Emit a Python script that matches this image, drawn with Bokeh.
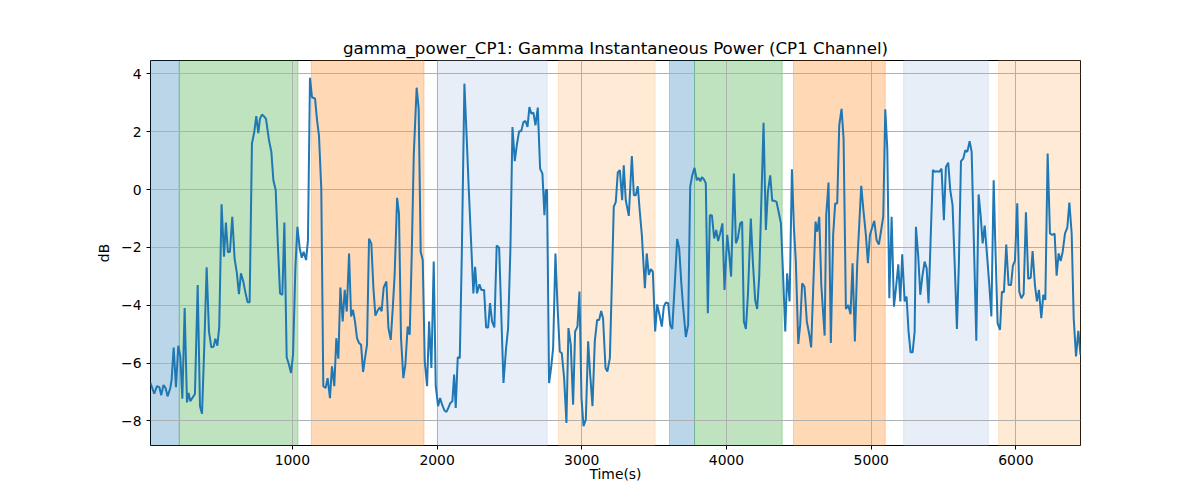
from bokeh.plotting import figure
from bokeh.models import Range1d, FixedTicker, CustomJSTickFormatter, BoxAnnotation
from bokeh.embed import file_html
from bokeh.resources import INLINE

time_s = [
    20, 46, 64, 81, 94, 110, 124, 138, 157, 166, 180, 196, 212, 226, 240, 256, 272, 283, 295, 309,
    327, 346, 362, 376, 392, 408, 424, 440, 456, 468, 482, 495, 511, 528, 541, 555, 569, 585, 601, 617,
    631, 645, 661, 677, 691, 705, 721, 737, 751, 765, 776, 790, 804, 818,
    839, 855, 869, 885, 901, 915, 931, 945, 961, 977, 991, 1005, 1021, 1035, 1051, 1065, 1078, 1095, 1108, 1122,
    1136, 1157, 1171, 1184, 1200, 1214, 1230, 1244, 1260, 1274, 1290, 1304, 1318, 1332, 1348, 1362, 1376, 1392, 1406, 1419,
    1433, 1447, 1461, 1475, 1489, 1502, 1516, 1530, 1546, 1560, 1574, 1590, 1604, 1617, 1631,
    1650, 1664, 1680, 1694, 1707, 1724, 1737, 1751, 1767, 1781, 1797, 1811, 1825, 1839, 1859, 1873, 1887, 1901, 1915, 1931,
    1945, 1961, 1977, 1991, 2007, 2021, 2035, 2051, 2065, 2078, 2092, 2106, 2118, 2129, 2143, 2157, 2171, 2189, 2205, 2219,
    2235, 2251, 2263, 2276, 2293, 2306, 2325, 2339, 2353, 2366, 2380, 2396, 2412, 2429,
    2459, 2477, 2491, 2507, 2521, 2537, 2551, 2567, 2581, 2597, 2611, 2625, 2638, 2652, 2666, 2680, 2696, 2712, 2728, 2742,
    2751, 2760, 2774, 2788, 2802, 2818, 2832, 2848, 2862, 2878, 2894, 2908, 2924, 2940, 2954, 2970, 2984, 2998, 3012, 3028,
    3044, 3058, 3074, 3090, 3106, 3120, 3134, 3147, 3164, 3177, 3194, 3207, 3221, 3235, 3249, 3263,
    3279, 3290, 3304, 3325, 3346, 3360, 3373, 3387, 3401, 3415, 3436, 3449, 3463, 3477, 3491, 3507, 3521, 3537, 3553, 3567,
    3581, 3597, 3611, 3625, 3641, 3659, 3673, 3687, 3701, 3719, 3735, 3749, 3763, 3779, 3795, 3807, 3820, 3830, 3843, 3857,
    3871, 3885, 3899, 3915, 3929, 3942, 3956, 3972, 3986, 4005, 4019, 4032, 4051, 4065, 4078,
    4095, 4108, 4120, 4134, 4148, 4168, 4182, 4198, 4212, 4226, 4256, 4272, 4286, 4302, 4316, 4332, 4346, 4360, 4376, 4390,
    4406, 4419, 4436, 4452, 4466, 4479, 4496, 4509, 4523, 4539, 4555, 4572, 4585, 4615, 4627, 4641, 4655, 4678, 4689, 4705,
    4721, 4737, 4751, 4765, 4779, 4795, 4809, 4825, 4841, 4857, 4871, 4887, 4903,
    4931, 4945, 4963, 4977, 4991, 5005, 5021, 5037, 5053, 5067, 5083, 5097, 5111, 5125, 5141, 5157, 5171, 5187, 5201, 5214,
    5231, 5244, 5258, 5272, 5286, 5300, 5309, 5325, 5339, 5353, 5369, 5383, 5396, 5410, 5426, 5440, 5454, 5470, 5486, 5502,
    5516, 5532, 5546, 5562, 5576, 5592, 5606, 5620, 5636, 5650, 5664, 5680, 5694,
    5726, 5742, 5756, 5770, 5784, 5800, 5816, 5830, 5846, 5857, 5873, 5890, 5903, 5917, 5933, 5949, 5966, 5979, 5993, 6009,
    6023, 6037, 6053, 6069, 6085, 6102, 6115, 6131, 6145, 6159, 6175, 6189, 6203, 6219, 6235, 6251, 6267, 6281, 6295, 6309,
    6323, 6339, 6355, 6369, 6385, 6399, 6415, 6431, 6446,
]

power_db = [
    -6.69, -7.06, -6.80, -6.83, -7.11, -6.76, -6.86, -7.15, -6.86, -6.57, -5.46, -6.83, -5.40, -5.77, -7.23, -4.10, -7.36, -7.03, -7.32, -7.21,
    -7.07, -3.30, -7.49, -7.75, -5.37, -2.69, -4.91, -5.45, -5.44, -5.16, -5.40, -4.74, -0.51, -2.32, -1.14, -2.17, -2.15, -0.94, -2.38, -2.90,
    -3.62, -2.90, -3.18, -3.59, -3.90, -3.90, 1.59, 1.99, 2.54, 1.95, 2.44, 2.59, 2.53, 2.44,
    1.70, 1.30, 0.32, -0.02, -2.03, -3.59, -3.64, -1.14, -5.80, -6.06, -6.34, -5.71, -2.72, -1.29, -2.03, -2.36, -2.15, -2.44, -1.75, 3.86,
    3.19, 3.14, 2.39, 1.87, 0.03, -6.80, -6.86, -6.52, -7.21, -6.11, -6.80, -5.14, -5.85, -3.39, -4.56, -3.47, -4.22, -2.21, -4.39, -4.16,
    -4.56, -5.14, -5.31, -5.37, -6.31, -5.83, -5.37, -1.70, -1.87, -3.39, -4.36, -4.18, -4.07, -4.21, -3.39,
    -3.18, -4.79, -5.20, -4.10, -2.95, -0.29, -0.83, -5.14, -6.52, -6.06, -4.74, -5.02, -2.26, 1.18, 3.52, 2.79, -2.15, -2.44, -5.94, -6.80,
    -4.56, -6.17, -2.49, -6.80, -7.49, -7.21, -7.44, -7.64, -7.69, -7.55, -7.38, -7.32, -6.40, -7.55, -5.80, -5.83, -2.26, 3.66, 1.76, 0.03,
    -1.80, -3.59, -2.67, -3.59, -3.28, -3.47, -3.47, -4.77, -4.77, -3.93, -4.56, -4.77, -1.94, -2.01,
    -6.69, -5.48, -4.79, -2.03, 2.16, 0.98, 1.53, 2.01, 2.01, 2.33, 2.37, 2.16, 2.85, 2.62, 2.66, 2.22, 2.83, 0.72, 0.55, -0.89,
    -0.02, -0.02, -6.69, -6.17, -5.48, -2.21, -3.99, -5.60, -5.66, -6.52, -8.07, -4.79, -5.37, -7.44, -4.91, -4.74, -3.53, -7.21, -8.18, -7.95,
    -5.25, -6.40, -7.49, -5.25, -4.51, -4.51, -4.20, -4.45, -6.17, -6.29, -5.83, -3.41, -0.60, -0.43, 0.59, 0.67,
    -0.37, 0.84, -0.37, -0.91, 1.16, -0.20, -0.20, 0.11, -0.77, -1.57, -3.41, -2.21, -2.95, -2.75, -2.84, -4.91, -3.97, -4.33, -4.74, -4.05,
    -3.90, -3.93, -4.68, -4.82, -3.41, -1.71, -2.03, -3.18, -4.10, -5.10, -4.68, 0.09, 0.49, 0.75, 0.32, 0.40, 0.29, 0.43, 0.36, 0.21,
    -4.28, -0.89, -0.89, -1.69, -1.40, -1.78, -1.52, -1.17, -3.47, -1.57, -2.26, -3.01, 0.55, -1.86, -1.69,
    -1.17, -1.11, -4.56, -4.82, -3.64, -1.00, -2.49, -3.82, -4.13, -3.01, 2.31, -1.40, -0.08, 0.49, -0.39, -0.39, -0.43, -0.77, -1.17, -2.84,
    -4.91, -2.90, -3.87, 0.70, -1.34, -2.49, -5.34, -4.68, -3.24, -3.36, -4.56, -5.02, -5.46, -1.11, -1.46, -0.94, -3.30, -5.05, -0.89, 0.24,
    -5.31, -1.57, -0.48, -0.48, 2.22, 2.79, 1.76, -4.13, -3.99, -4.31, -2.55, -5.25, -2.60,
    0.13, -0.66, -1.57, -2.55, -1.57, -1.34, -1.08, -1.75, -1.90, -1.46, -0.94, 2.77, 1.41, -3.76, -0.94, -4.05, -3.41, -2.59, -3.87, -2.24,
    -3.87, -3.70, -4.91, -5.63, -5.63, -4.91, -1.29, -2.32, -3.64, -3.01, -2.49, -2.72, -3.93, -1.80, 0.67, 0.61, 0.63, 0.61, 0.72, -1.06,
    0.78, 0.93, -0.02, -0.54, -2.49, -4.82, -2.49, 0.98, 1.07, 1.36, 1.30, 1.67, 1.30,
    -5.23, -0.17, -0.89, -1.86, -1.25, -2.26, -3.30, -4.39, 0.32, -1.80, -4.62, -4.85, -3.53, -3.55, -1.90, -3.30, -3.30, -2.63, -2.47, -0.48,
    -3.53, -3.76, -3.62, -0.79, -3.09, -3.05, -2.13, -3.30, -3.87, -3.47, -4.45, -3.64, -3.82, 1.24, -1.52, -1.57, -1.52, -2.98, -2.21, -2.47,
    -2.15, -1.52, -1.32, -0.45, -1.52, -4.45, -5.77, -4.89, -5.71,
]

span_start = [0, 219, 1131, 2002, 2839, 3606, 3779, 4463, 5224, 5880]
span_end = [219, 1039, 1910, 2761, 3507, 3779, 4385, 5097, 5809, 6460]
span_color = ["#1f77b4", "#2ca02c", "#ff7f0e", "#aec7e8", "#ffbb78",
              "#1f77b4", "#2ca02c", "#ff7f0e", "#aec7e8", "#ffbb78"]

x_ticks = [1000, 2000, 3000, 4000, 5000, 6000]
y_ticks = [-8, -6, -4, -2, 0, 2, 4]

FONT = "DejaVu Sans"

p = figure(width=1184, height=484, output_backend="svg", toolbar_location=None,
           x_range=Range1d(time_s[0], time_s[-1]), y_range=Range1d(-8.85, 4.46),
           title="gamma_power_CP1: Gamma Instantaneous Power (CP1 Channel)",
           min_border_left=150, min_border_right=104, min_border_top=60, min_border_bottom=39)

p.title.align = "center"
p.title.text_font = FONT
p.title.text_font_size = "16.7px"
p.title.text_font_style = "normal"
p.title.text_color = "black"
p.title.standoff = 6

for s, e, c in zip(span_start, span_end, span_color):
    p.add_layout(BoxAnnotation(left=s, right=e, fill_color=c, fill_alpha=0.3,
                               line_color=c, line_alpha=0.3, line_width=1, level="image"))

p.line(time_s, power_db, line_color="#1f77b4", line_width=2)

p.xaxis.ticker = FixedTicker(ticks=x_ticks)
p.yaxis.ticker = FixedTicker(ticks=y_ticks)
p.yaxis.formatter = CustomJSTickFormatter(code="return tick < 0 ? '\u2212' + Math.abs(tick) : String(tick);")

for ax in (p.xaxis, p.yaxis):
    ax.axis_line_color = None
    ax.major_tick_line_color = "black"
    ax.major_tick_line_width = 1
    ax.major_tick_out = 4
    ax.major_tick_in = 0
    ax.minor_tick_line_color = None
    ax.major_label_text_font = FONT
    ax.major_label_text_font_size = "13.9px"
    ax.major_label_text_color = "black"
    ax.axis_label_text_font = FONT
    ax.axis_label_text_font_size = "13.9px"
    ax.axis_label_text_font_style = "normal"
    ax.axis_label_text_color = "black"

p.xaxis.axis_label = "Time(s)"
p.yaxis.axis_label = "dB"
p.xaxis.major_label_standoff = 5
p.yaxis.major_label_standoff = 5
p.xaxis.axis_label_standoff = -2
p.yaxis.axis_label_standoff = 6

p.xgrid.grid_line_color = "#b0b0b0"
p.ygrid.grid_line_color = "#b0b0b0"
p.xgrid.grid_line_width = 1
p.ygrid.grid_line_width = 1

p.outline_line_color = "black"
p.outline_line_width = 1
p.outline_line_alpha = 1
p.background_fill_color = "white"
p.border_fill_color = "white"

open("out.html", "w").write(file_html(p, INLINE))
